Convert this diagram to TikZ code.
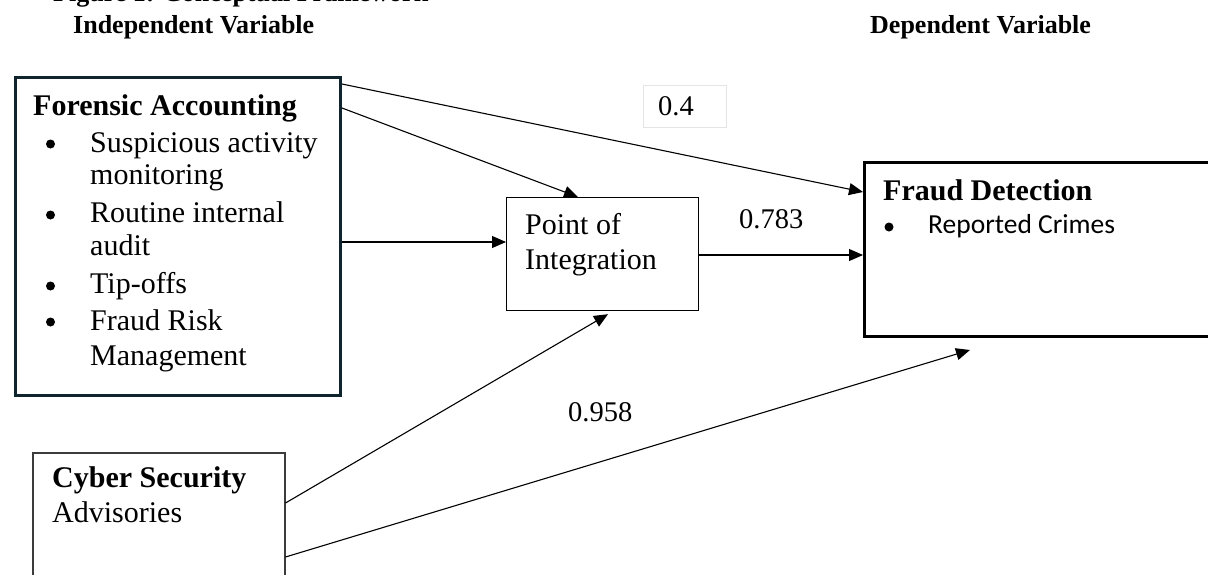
\documentclass[tikz,border=0pt]{standalone}
\usepackage{fontspec}
\setmainfont{Liberation Serif}
\newfontfamily\califont{Carlito}
\usetikzlibrary{arrows.meta,calc}
\definecolor{navy}{RGB}{16,36,46}
\definecolor{lightbox}{RGB}{228,228,228}
\definecolor{darkline}{RGB}{60,60,60}
\begin{document}
\begin{tikzpicture}[x=1pt,y=-1pt,
  box/.style={draw, rectangle, anchor=north west, inner sep=0pt},
  conn/.style={-{Triangle[length=14pt,width=12pt]}, line width=1.1pt},
  body/.style={font=\fontsize{30}{33.5}\selectfont, inner sep=0pt, anchor=base west},
  bodyb/.style={font=\fontsize{30}{33.5}\selectfont\bfseries, inner sep=0pt, anchor=base west},
  head/.style={font=\fontsize{26}{30}\selectfont\bfseries, inner sep=0pt, anchor=base west},
  num/.style={font=\fontsize{28.5}{30}\selectfont, inner sep=0pt, anchor=base west},
  bul/.style={circle, fill=black, inner sep=0pt, minimum size=9pt}
]
\useasboundingbox[fill=white] (0,0) rectangle (1208,574);

% headers
\node[head] (fig) at (53,1) {Figure 1: Conceptual Framework};
\node[head] (iv) at (73,33) {Independent Variable};
\node[head] (dv) at (870,33) {Dependent Variable};

% boxes
\node[box, line width=3pt, draw=navy, minimum width=325.5pt, minimum height=318pt] (fa) at (13.5,75.5) {};
\node[box, line width=1.2pt, minimum width=192pt, minimum height=113pt] (poi) at (506,197) {};
\node[box, line width=3pt, minimum width=360pt, minimum height=174pt] (fd) at (863,161) {};
\node[box, line width=1.5pt, draw=darkline, minimum width=252pt, minimum height=140pt] (cs) at (32,452) {};
\node[box, line width=1pt, draw=lightbox, minimum width=83pt, minimum height=42pt] (w04) at (643,85) {};

% Forensic Accounting text
\node[bodyb] (fat) at (33,115) {Forensic Accounting};
\node[bul] (b1) at (50.5,144) {};
\node[body] (l1) at (90,152) {Suspicious activity};
\node[body] (l2) at (90,184) {monitoring};
\node[bul] (b2) at (50.5,215) {};
\node[body] (l3) at (90,222) {Routine internal};
\node[body] (l4) at (90,255) {audit};
\node[bul] (b3) at (50.5,286) {};
\node[body] (l5) at (90,293) {Tip-offs};
\node[bul] (b4) at (50.5,322) {};
\node[body] (l6) at (90,330) {Fraud Risk};
\node[body] (l7) at (90,365) {Management};

% Point of Integration text
\node[body] (p1) at (525,234) {Point of};
\node[body] (p2) at (525,269) {Integration};

% Fraud Detection text
\node[bodyb] (fdt) at (883,200) {Fraud Detection};
\node[bul] (fb) at (889,227) {};
\node[font=\califont\fontsize{27.5}{30}\selectfont, inner sep=0pt, anchor=base west] (rc) at (928,233) {Reported Crimes};

% Cyber Security text
\node[bodyb] (cst) at (52,487) {Cyber Security};
\node[body] (csa) at (52,522) {Advisories};

% numbers
\node[num] (n04) at (658,115) {0.4};
\node[num] (n783) at (739,228) {0.783};
\node[num] (n958) at (568,421) {0.958};

% connectors
\draw[conn] ($(fa.north east)+(0,8.5)$) -- ($(fd.north west)+(0,31)$);
\draw[conn] ($(fa.north east)+(0,32.5)$) -- ($(poi.north west)+(72,0)$);
\draw[conn] ($(fa.north east)+(0,166.5)$) -- ($(poi.north west)+(0,45)$);
\draw[conn] ($(poi.north east)+(0,58)$) -- ($(fd.north west)+(0,94)$);
\draw[conn] ($(cs.north east)+(0,51)$) -- ($(poi.south west)+(102,3)$);
\draw[conn] ($(cs.north east)+(0,105)$) -- ($(fd.south west)+(107,12)$);
\end{tikzpicture}
\end{document}
